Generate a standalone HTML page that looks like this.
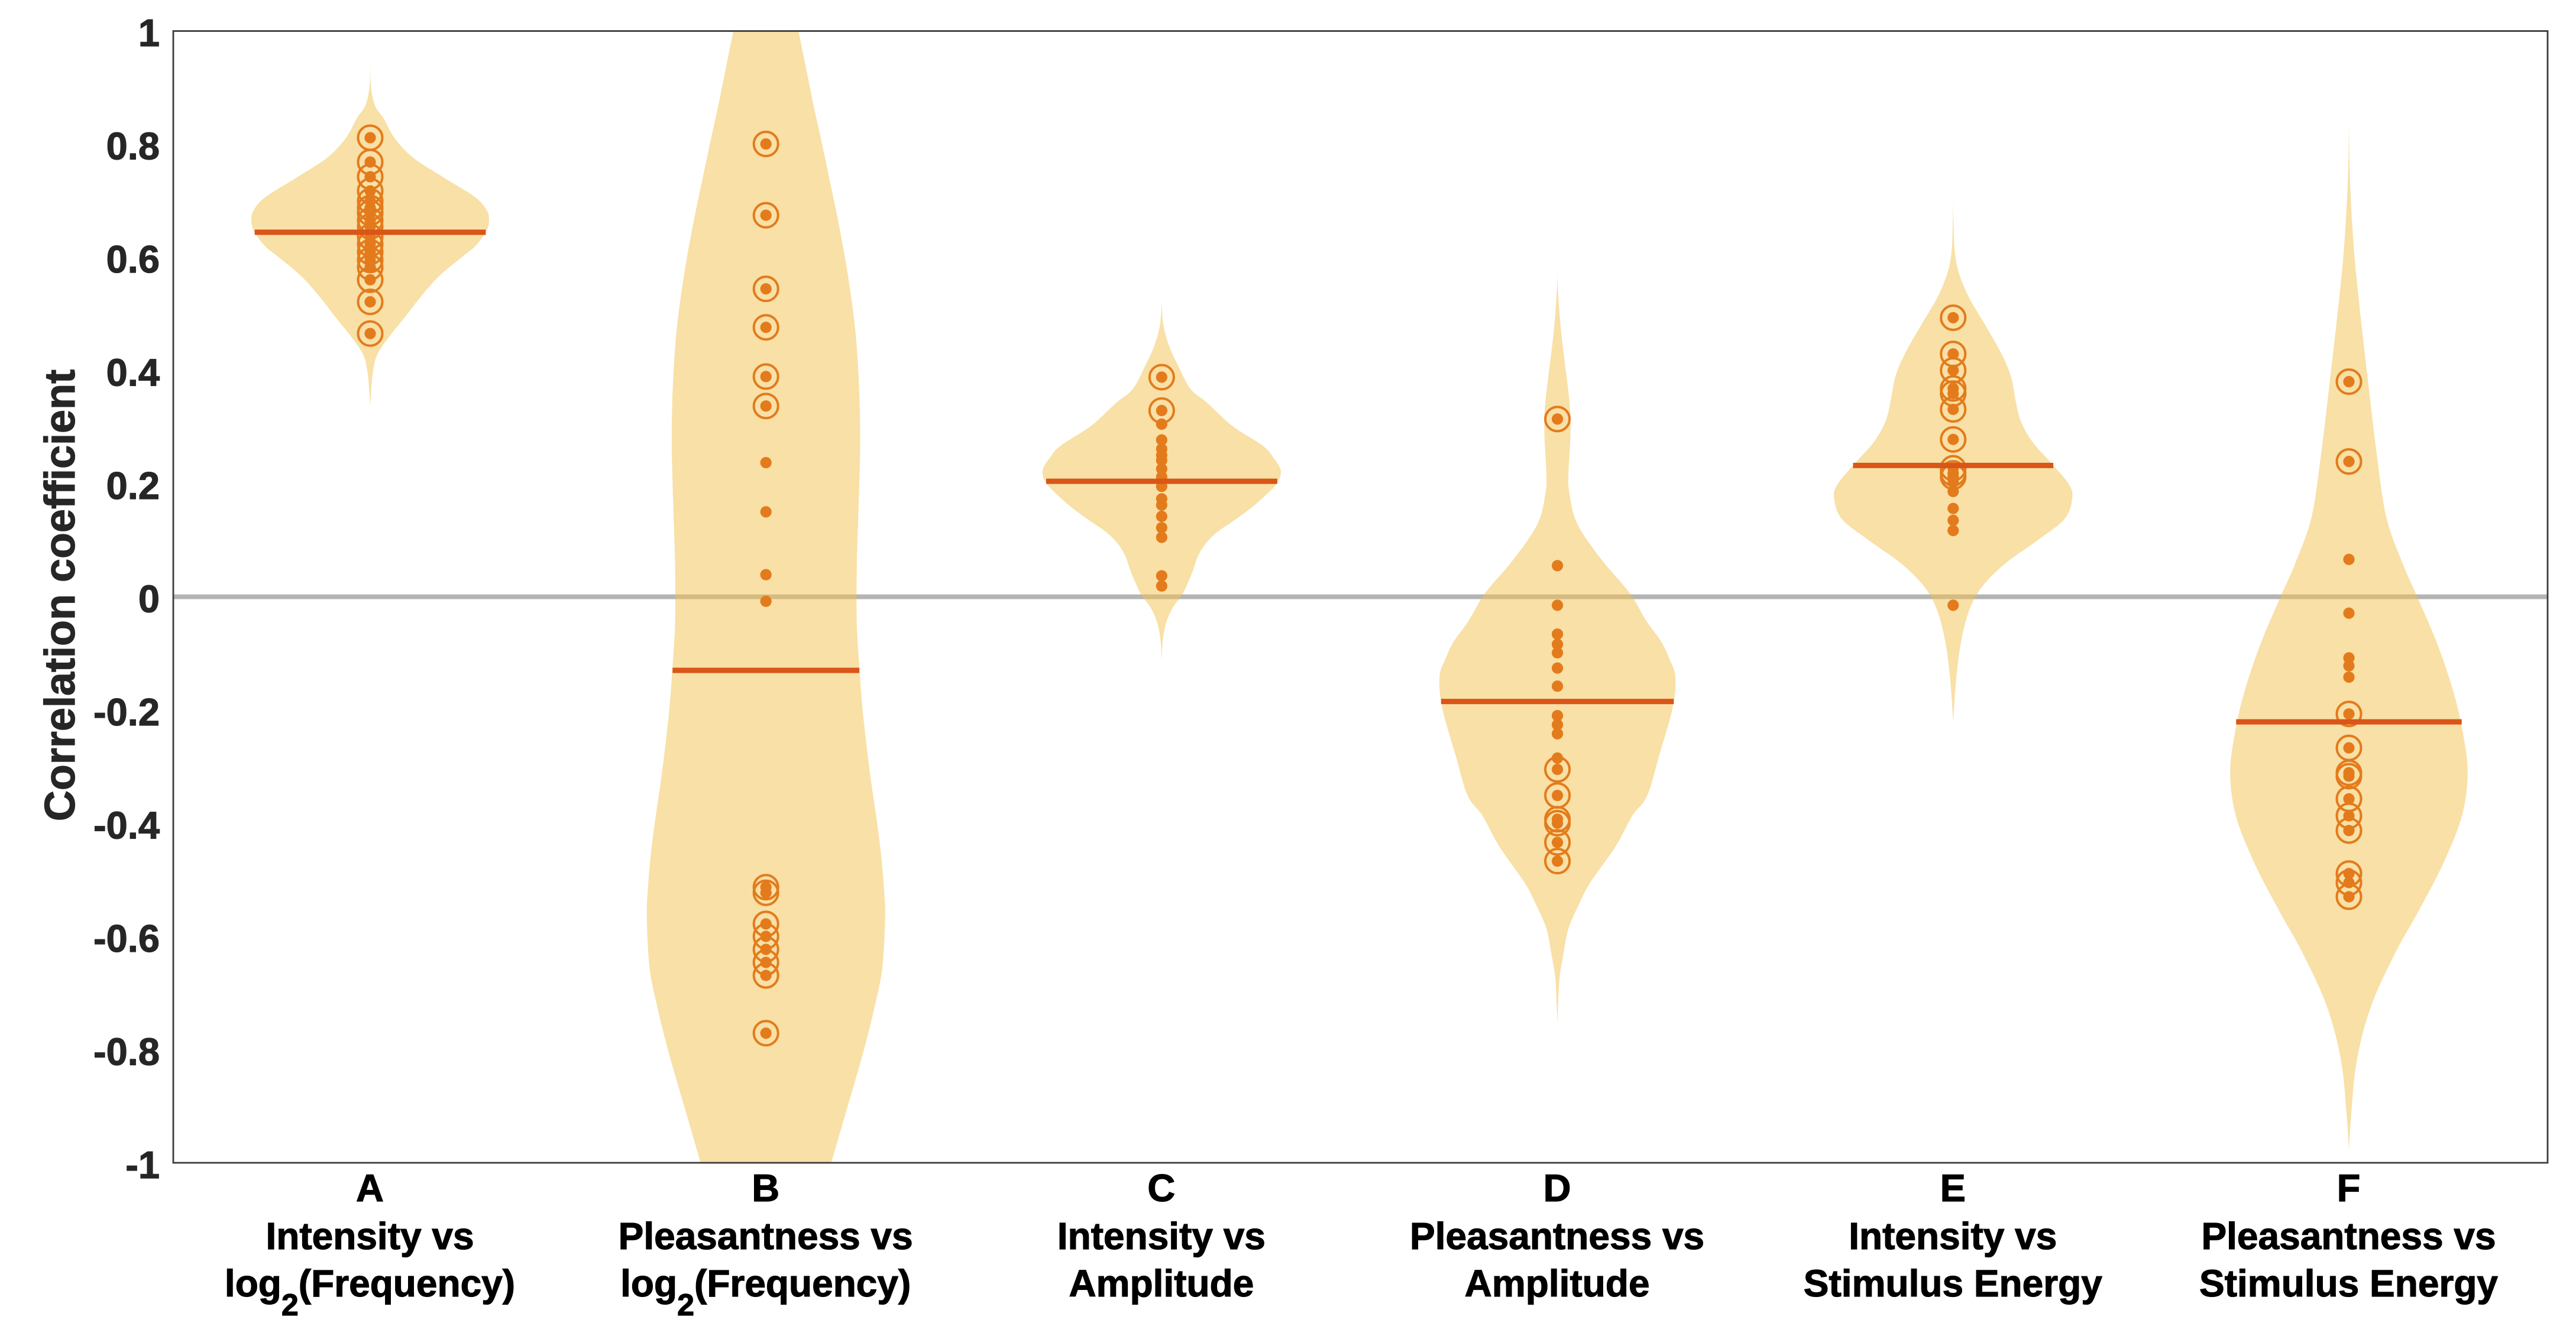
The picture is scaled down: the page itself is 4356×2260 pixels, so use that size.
<!DOCTYPE html>
<html lang="en">
<head>
<meta charset="utf-8">
<title>Correlation coefficient violin chart</title>
<style>
html,body{margin:0;padding:0;background:#fff;width:4356px;height:2260px;overflow:hidden}
svg{display:block}
text{font-family:"Liberation Sans",Arial,sans-serif;font-weight:700;stroke-width:1.2px;paint-order:stroke}
</style>
</head>
<body>
<svg id="chart" xmlns="http://www.w3.org/2000/svg" width="4356" height="2260" viewBox="0 0 4356 2260">
  <defs>
    <clipPath id="plot-clip"><rect x="293" y="52.5" width="4015" height="1914.5"/></clipPath>
  </defs>
  <rect x="0" y="0" width="4356" height="2260" fill="#ffffff"/>
  <g id="layer-zero" clip-path="url(#plot-clip)"></g>
  <g id="layer-violins" clip-path="url(#plot-clip)"></g>
  <g id="layer-points" clip-path="url(#plot-clip)"></g>
  <g id="layer-medians" clip-path="url(#plot-clip)"></g>
  <rect x="293" y="52.5" width="4015" height="1914.5" fill="none" stroke="#3c3c3c" stroke-width="2.8"/>
  <g id="layer-yticks"></g>
  <g id="layer-xticks"></g>
  <text x="126" y="0" transform="translate(0,1007) rotate(-90 126 0)" text-anchor="middle" font-size="72" fill="#262626" stroke="#262626">Correlation coefficient</text>
</svg>
<script>
// Axis tick values and labels
const yTickValues = [1, 0.8, 0.6, 0.4, 0.2, 0, -0.2, -0.4, -0.6, -0.8, -1];
const yTickLabels = ['1', '0.8', '0.6', '0.4', '0.2', '0', '-0.2', '-0.4', '-0.6', '-0.8', '-1'];

// Categories
const categoryLetters = ['A', 'B', 'C', 'D', 'E', 'F'];
const categoryLine1 = ['Intensity vs', 'Pleasantness vs', 'Intensity vs', 'Pleasantness vs', 'Intensity vs', 'Pleasantness vs'];
const categoryLine2 = ['log|2|(Frequency)', 'log|2|(Frequency)', 'Amplitude', 'Amplitude', 'Stimulus Energy', 'Stimulus Energy'];

// Medians and their half widths (x-axis units)
const medians = [0.644, -0.130, 0.204, -0.185, 0.232, -0.221];
const medianWidths = [0.292, 0.236, 0.292, 0.294, 0.253, 0.285];

// Violin outlines: correlation value and half width (x-axis units)
const violinAValues = [0.940, 0.900, 0.868, 0.845, 0.811, 0.776, 0.741, 0.706, 0.682, 0.663, 0.644, 0.619, 0.602, 0.567, 0.532, 0.497, 0.462, 0.428, 0.393, 0.338];
const violinAWidths = [0, 0.002, 0.012, 0.034, 0.061, 0.108, 0.185, 0.265, 0.295, 0.300, 0.292, 0.265, 0.235, 0.175, 0.130, 0.091, 0.051, 0.018, 0.006, 0];

const violinBValues = [1.000, 0.935, 0.869, 0.802, 0.736, 0.669, 0.602, 0.536, 0.469, 0.403, 0.336, 0.269, 0.203, 0.136, 0.070, 0.003, -0.057, -0.123, -0.190, -0.256, -0.323, -0.390, -0.456, -0.523, -0.570, -0.656, -0.723, -0.789, -0.856, -0.923, -1.000];
const violinBWidths = [0.082, 0.101, 0.120, 0.141, 0.161, 0.181, 0.199, 0.214, 0.226, 0.233, 0.237, 0.238, 0.236, 0.233, 0.230, 0.229, 0.230, 0.236, 0.243, 0.253, 0.265, 0.279, 0.291, 0.299, 0.301, 0.294, 0.275, 0.252, 0.225, 0.197, 0.165];

const violinCValues = [0.520, 0.487, 0.465, 0.439, 0.412, 0.368, 0.342, 0.302, 0.267, 0.245, 0.223, 0.201, 0.179, 0.157, 0.135, 0.113, 0.091, 0.069, 0.048, 0.026, 0.004, -0.018, -0.040, -0.062, -0.084, -0.113];
const violinCWidths = [0, 0.003, 0.009, 0.021, 0.039, 0.072, 0.116, 0.178, 0.255, 0.283, 0.301, 0.292, 0.262, 0.226, 0.183, 0.138, 0.108, 0.090, 0.080, 0.067, 0.052, 0.029, 0.014, 0.006, 0.002, 0];

const violinDValues = [0.600, 0.546, 0.464, 0.347, 0.292, 0.220, 0.184, 0.129, 0.066, 0.007, -0.043, -0.079, -0.110, -0.142, -0.197, -0.278, -0.351, -0.387, -0.441, -0.505, -0.541, -0.586, -0.632, -0.677, -0.754];
const violinDWidths = [0, 0.001, 0.010, 0.030, 0.033, 0.028, 0.030, 0.050, 0.111, 0.182, 0.225, 0.262, 0.283, 0.298, 0.291, 0.258, 0.227, 0.189, 0.147, 0.083, 0.056, 0.028, 0.015, 0.005, 0];

const violinEValues = [0.699, 0.659, 0.610, 0.573, 0.530, 0.481, 0.432, 0.389, 0.346, 0.310, 0.273, 0.233, 0.199, 0.175, 0.138, 0.101, 0.058, 0.015, -0.027, -0.083, -0.150, -0.221];
const violinEWidths = [0, 0.001, 0.004, 0.014, 0.039, 0.080, 0.120, 0.146, 0.158, 0.171, 0.201, 0.252, 0.292, 0.301, 0.282, 0.216, 0.130, 0.070, 0.039, 0.019, 0.007, 0];

const violinFValues = [0.828, 0.728, 0.611, 0.505, 0.376, 0.259, 0.142, 0.060, 0.001, -0.081, -0.163, -0.233, -0.309, -0.386, -0.467, -0.550, -0.632, -0.725, -0.819, -0.913, -0.978];
const violinFWidths = [0, 0.003, 0.013, 0.028, 0.049, 0.069, 0.094, 0.135, 0.172, 0.222, 0.262, 0.286, 0.300, 0.286, 0.241, 0.180, 0.115, 0.055, 0.020, 0.006, 0];

// Observations: every dot value, and the subset of those that also carry a ring
const pointsA = [0.811, 0.768, 0.742, 0.717, 0.699, 0.687, 0.678, 0.665, 0.654, 0.636, 0.623, 0.609, 0.595, 0.582, 0.560, 0.521, 0.465];
const ringsA = [0.811, 0.768, 0.742, 0.717, 0.699, 0.687, 0.678, 0.665, 0.654, 0.636, 0.623, 0.609, 0.595, 0.582, 0.560, 0.521, 0.465];

const pointsB = [0.800, 0.674, 0.544, 0.476, 0.389, 0.337, 0.237, 0.150, 0.039, -0.008, -0.513, -0.523, -0.578, -0.600, -0.623, -0.646, -0.669, -0.771];
const ringsB = [0.800, 0.674, 0.544, 0.476, 0.389, 0.337, -0.513, -0.523, -0.578, -0.600, -0.623, -0.646, -0.669, -0.771];

const pointsC = [0.388, 0.329, 0.305, 0.277, 0.261, 0.250, 0.241, 0.226, 0.212, 0.204, 0.195, 0.173, 0.162, 0.142, 0.122, 0.105, 0.037, 0.019];
const ringsC = [0.388, 0.329];

const pointsD = [0.314, 0.055, -0.015, -0.066, -0.084, -0.099, -0.126, -0.158, -0.210, -0.226, -0.242, -0.285, -0.305, -0.351, -0.393, -0.400, -0.434, -0.467];
const ringsD = [0.314, -0.305, -0.351, -0.393, -0.400, -0.434, -0.467];

const pointsE = [0.493, 0.429, 0.400, 0.368, 0.359, 0.331, 0.278, 0.227, 0.218, 0.212, 0.202, 0.186, 0.156, 0.135, 0.117, -0.015];
const ringsE = [0.493, 0.429, 0.400, 0.368, 0.359, 0.331, 0.278, 0.227, 0.218, 0.212];

const pointsF = [0.380, 0.239, 0.066, -0.029, -0.108, -0.122, -0.142, -0.207, -0.267, -0.311, -0.317, -0.357, -0.387, -0.413, -0.489, -0.505, -0.530];
const ringsF = [0.380, 0.239, -0.207, -0.267, -0.311, -0.317, -0.357, -0.387, -0.413, -0.489, -0.505, -0.530];

const violinValues = [violinAValues, violinBValues, violinCValues, violinDValues, violinEValues, violinFValues];
const violinWidths = [violinAWidths, violinBWidths, violinCWidths, violinDWidths, violinEWidths, violinFWidths];
const pointSets = [pointsA, pointsB, pointsC, pointsD, pointsE, pointsF];
const ringSets = [ringsA, ringsB, ringsC, ringsD, ringsE, ringsF];

const SVG_NS = 'http://www.w3.org/2000/svg';
function xScale(categoryIndex) { return 626 + 669.2 * categoryIndex; }
function yScale(value) { return 1009.5 - 957.5 * value; }
function widthScale(units) { return 669.2 * units; }

function make(tag, attrs, parent) {
  const el = document.createElementNS(SVG_NS, tag);
  for (const key in attrs) el.setAttribute(key, attrs[key]);
  parent.appendChild(el);
  return el;
}

function smoothSegments(pts) {
  let d = '';
  for (let i = 0; i < pts.length - 1; i++) {
    const p0 = pts[Math.max(i - 1, 0)];
    const p1 = pts[i];
    const p2 = pts[i + 1];
    const p3 = pts[Math.min(i + 2, pts.length - 1)];
    const c1x = p1[0] + (p2[0] - p0[0]) / 6;
    const c1y = p1[1] + (p2[1] - p0[1]) / 6;
    const c2x = p2[0] - (p3[0] - p1[0]) / 6;
    const c2y = p2[1] - (p3[1] - p1[1]) / 6;
    d += 'C' + c1x.toFixed(1) + ' ' + c1y.toFixed(1) + ' ' + c2x.toFixed(1) + ' ' + c2y.toFixed(1) + ' ' + p2[0].toFixed(1) + ' ' + p2[1].toFixed(1);
  }
  return d;
}

function violinPath(categoryIndex) {
  const cx = xScale(categoryIndex);
  const vals = violinValues[categoryIndex];
  const wids = violinWidths[categoryIndex];
  const right = vals.map(function (v, i) { return [cx + widthScale(wids[i]), yScale(v)]; });
  const left = vals.map(function (v, i) { return [cx - widthScale(wids[i]), yScale(v)]; }).reverse();
  return 'M' + right[0][0].toFixed(1) + ' ' + right[0][1].toFixed(1) + smoothSegments(right) +
         'L' + left[0][0].toFixed(1) + ' ' + left[0][1].toFixed(1) + smoothSegments(left) + 'Z';
}

const layerZero = document.getElementById('layer-zero');
const layerViolins = document.getElementById('layer-violins');
const layerPoints = document.getElementById('layer-points');
const layerMedians = document.getElementById('layer-medians');
const layerYTicks = document.getElementById('layer-yticks');
const layerXTicks = document.getElementById('layer-xticks');

const zeroLine = make('line', {x1: 293, x2: 4308, y1: yScale(0), y2: yScale(0), stroke: '#b4b4b4', 'stroke-width': 8}, layerZero);



yTickValues.forEach(function (value, i) {
  const label = make('text', {x: 270, y: yScale(value) + 26, 'text-anchor': 'end', 'font-size': 65, fill: '#262626', stroke: '#262626'}, layerYTicks);
  label.textContent = yTickLabels[i];
  
  
});

categoryLetters.forEach(function (letter, i) {
  const cx = xScale(i);

  const violin = make('path', {d: violinPath(i), fill: '#f1c24d', 'fill-opacity': 0.5}, layerViolins);
  
  

  pointSets[i].forEach(function (value) {
    const dot = make('circle', {cx: cx, cy: yScale(value), r: 9.6, fill: '#e37b1c'}, layerPoints);
    
    
  });
  ringSets[i].forEach(function (value) {
    const ring = make('circle', {cx: cx, cy: yScale(value), r: 20.5, fill: 'none', stroke: '#e37b1c', 'stroke-width': 4}, layerPoints);
    
    
  });

  const half = widthScale(medianWidths[i]);
  const median = make('line', {x1: cx - half, x2: cx + half, y1: yScale(medians[i]), y2: yScale(medians[i]), stroke: '#da5518', 'stroke-width': 9}, layerMedians);
  
  

  const labelX = cx - 0.5;
  const letterText = make('text', {x: labelX, y: 2032, 'text-anchor': 'middle', 'font-size': 65, fill: '#000', stroke: '#000'}, layerXTicks);
  letterText.textContent = letter;
  
  

  const line1 = make('text', {x: labelX, y: 2113, 'text-anchor': 'middle', 'font-size': 64, fill: '#000', stroke: '#000'}, layerXTicks);
  line1.textContent = categoryLine1[i];
  
  

  const line2 = make('text', {x: labelX, y: 2193, 'text-anchor': 'middle', 'font-size': 64, fill: '#000', stroke: '#000'}, layerXTicks);
  
  
  const parts = categoryLine2[i].split('|');
  if (parts.length === 3) {
    const a = make('tspan', {}, line2);
    a.textContent = parts[0];
    const b = make('tspan', {dy: 32, 'font-size': 52}, line2);
    b.textContent = parts[1];
    const c = make('tspan', {dy: -32}, line2);
    c.textContent = parts[2];
  } else {
    line2.textContent = categoryLine2[i];
  }
});
</script>
</body>
</html>
